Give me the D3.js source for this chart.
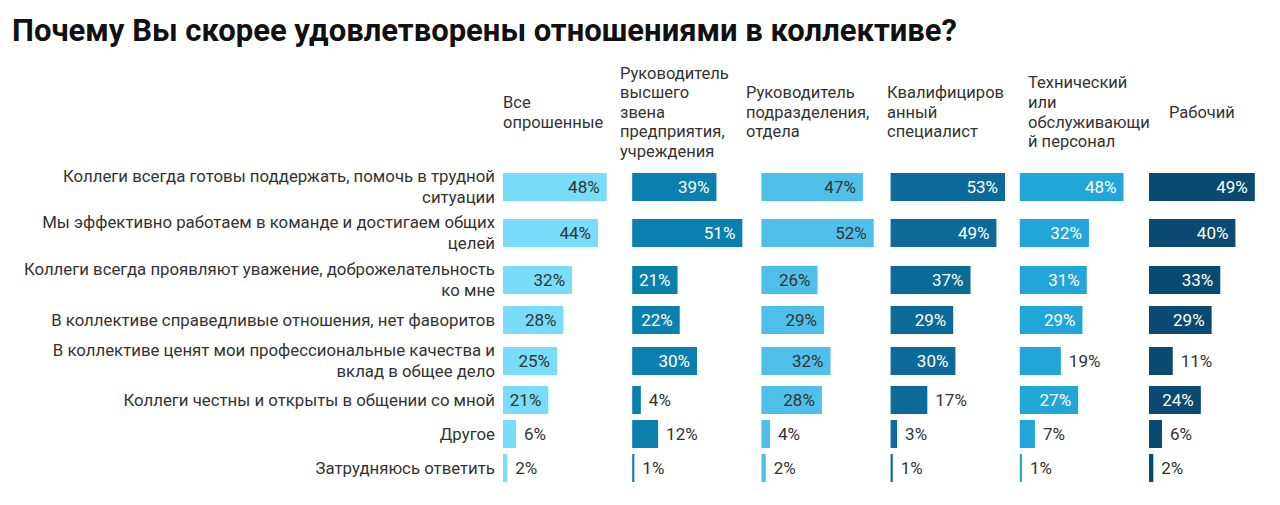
<!DOCTYPE html>
<html>
<head>
<meta charset="utf-8">
<script src="https://cdn.jsdelivr.net/npm/d3@7"></script>
<style>
  html, body { margin: 0; padding: 0; background: #fff; }
  svg { display: block; font-family: Roboto, "Noto Sans", sans-serif; }
</style>
</head>
<body>
<svg id="chart" width="1280" height="505"></svg>
<script>
// ---------- DATA ----------
const title = "Почему Вы скорее удовлетворены отношениями в коллективе?";

const categories = [
  ["Коллеги всегда готовы поддержать, помочь в трудной", "ситуации"],
  ["Мы эффективно работаем в команде и достигаем общих", "целей"],
  ["Коллеги всегда проявляют уважение, доброжелательность", "ко мне"],
  ["В коллективе справедливые отношения, нет фаворитов"],
  ["В коллективе ценят мои профессиональные качества и", "вклад в общее дело"],
  ["Коллеги честны и открыты в общении со мной"],
  ["Другое"],
  ["Затрудняюсь ответить"]
];

const groups = [
  ["Все", "опрошенные"],
  ["Руководитель", "высшего", "звена", "предприятия,", "учреждения"],
  ["Руководитель", "подразделения,", "отдела"],
  ["Квалифициров", "анный", "специалист"],
  ["Технический", "или", "обслуживающи", "й персонал"],
  ["Рабочий"]
];

const allRespondents = [48, 44, 32, 28, 25, 21, 6, 2];
const topManagers    = [39, 51, 21, 22, 30, 4, 12, 1];
const deptManagers   = [47, 52, 26, 29, 32, 28, 4, 2];
const specialists    = [53, 49, 37, 29, 30, 17, 3, 1];
const techStaff      = [48, 32, 31, 29, 19, 27, 7, 1];
const workers        = [49, 40, 33, 29, 11, 24, 6, 2];

const series = [allRespondents, topManagers, deptManagers, specialists, techStaff, workers];

// ---------- STYLE / LAYOUT ----------
const colors = ["#79dcf9", "#0b7fae", "#4ec0ea", "#0b6a97", "#22a6d7", "#0a4a70"];
const innerTextColors = ["#333", "#fff", "#333", "#fff", "#fff", "#fff"];
const rowGaps = [46, 47, 40, 41, 39, 34, 34]; // relative spacing between rows
const headerX = [503, 620, 746, 887, 1028, 1169];
const layout = {
  firstRowTop: 173, lastRowTop: 454, barH: 28,
  colStart: 503, colStep: 129.2, pxPerPct: 2.16,
  labelRight: 495, headerCenterY: 112, headerLineH: 19.6
};

const svg = d3.select("#chart");

svg.append("text")
  .attr("x", 12).attr("y", 41)
  .attr("font-size", 31).attr("font-weight", 700)
  .attr("fill", "#111")
  .text(title);

// Row position scale (weighted)
const cum = [0];
rowGaps.forEach(g => cum.push(cum[cum.length - 1] + g));
const yLin = d3.scaleLinear().domain([0, cum[cum.length - 1]]).range([layout.firstRowTop, layout.lastRowTop]);
const yRow = i => yLin(cum[i]);

// Column scale
const xCol = d3.scaleBand().domain(d3.range(groups.length))
  .range([layout.colStart, layout.colStart + layout.colStep * groups.length]).paddingInner(0).paddingOuter(0);
const xVal = d3.scaleLinear().domain([0, 100]).range([0, 100 * layout.pxPerPct]);

// Row labels
const rowG = svg.append("g");
categories.forEach((lines, i) => {
  const cy = yRow(i) + layout.barH / 2;
  const lh = 21;
  const t = rowG.append("text")
    .attr("text-anchor", "end")
    .attr("font-size", 16.8)
    .attr("fill", "#333");
  lines.forEach((ln, k) => {
    t.append("tspan")
      .attr("x", layout.labelRight)
      .attr("y", cy + (k - (lines.length - 1) / 2) * lh)
      .attr("dy", "0.35em")
      .text(ln);
  });
});

// Column headers
groups.forEach((lines, j) => {
  const t = svg.append("text")
    .attr("font-size", 16.5)
    .attr("fill", "#333");
  lines.forEach((ln, k) => {
    t.append("tspan")
      .attr("x", headerX[j])
      .attr("y", layout.headerCenterY + (k - (lines.length - 1) / 2) * layout.headerLineH)
      .attr("dy", "0.35em")
      .text(ln);
  });
});

// Bars
series.forEach((vals, j) => {
  const g = svg.append("g");
  g.selectAll("rect").data(vals).join("rect")
    .attr("x", xCol(j))
    .attr("y", (d, i) => yRow(i))
    .attr("width", d => xVal(d))
    .attr("height", layout.barH)
    .attr("fill", colors[j]);
  g.selectAll("text").data(vals).join("text")
    .attr("x", d => d >= 20 ? xCol(j) + xVal(d) - 7 : xCol(j) + xVal(d) + 8)
    .attr("y", (d, i) => yRow(i) + layout.barH / 2)
    .attr("dy", "0.35em")
    .attr("text-anchor", d => d >= 20 ? "end" : "start")
    .attr("font-size", 17)
    .attr("fill", d => d >= 20 ? innerTextColors[j] : "#333")
    .text(d => d + "%");
});
</script>
</body>
</html>
